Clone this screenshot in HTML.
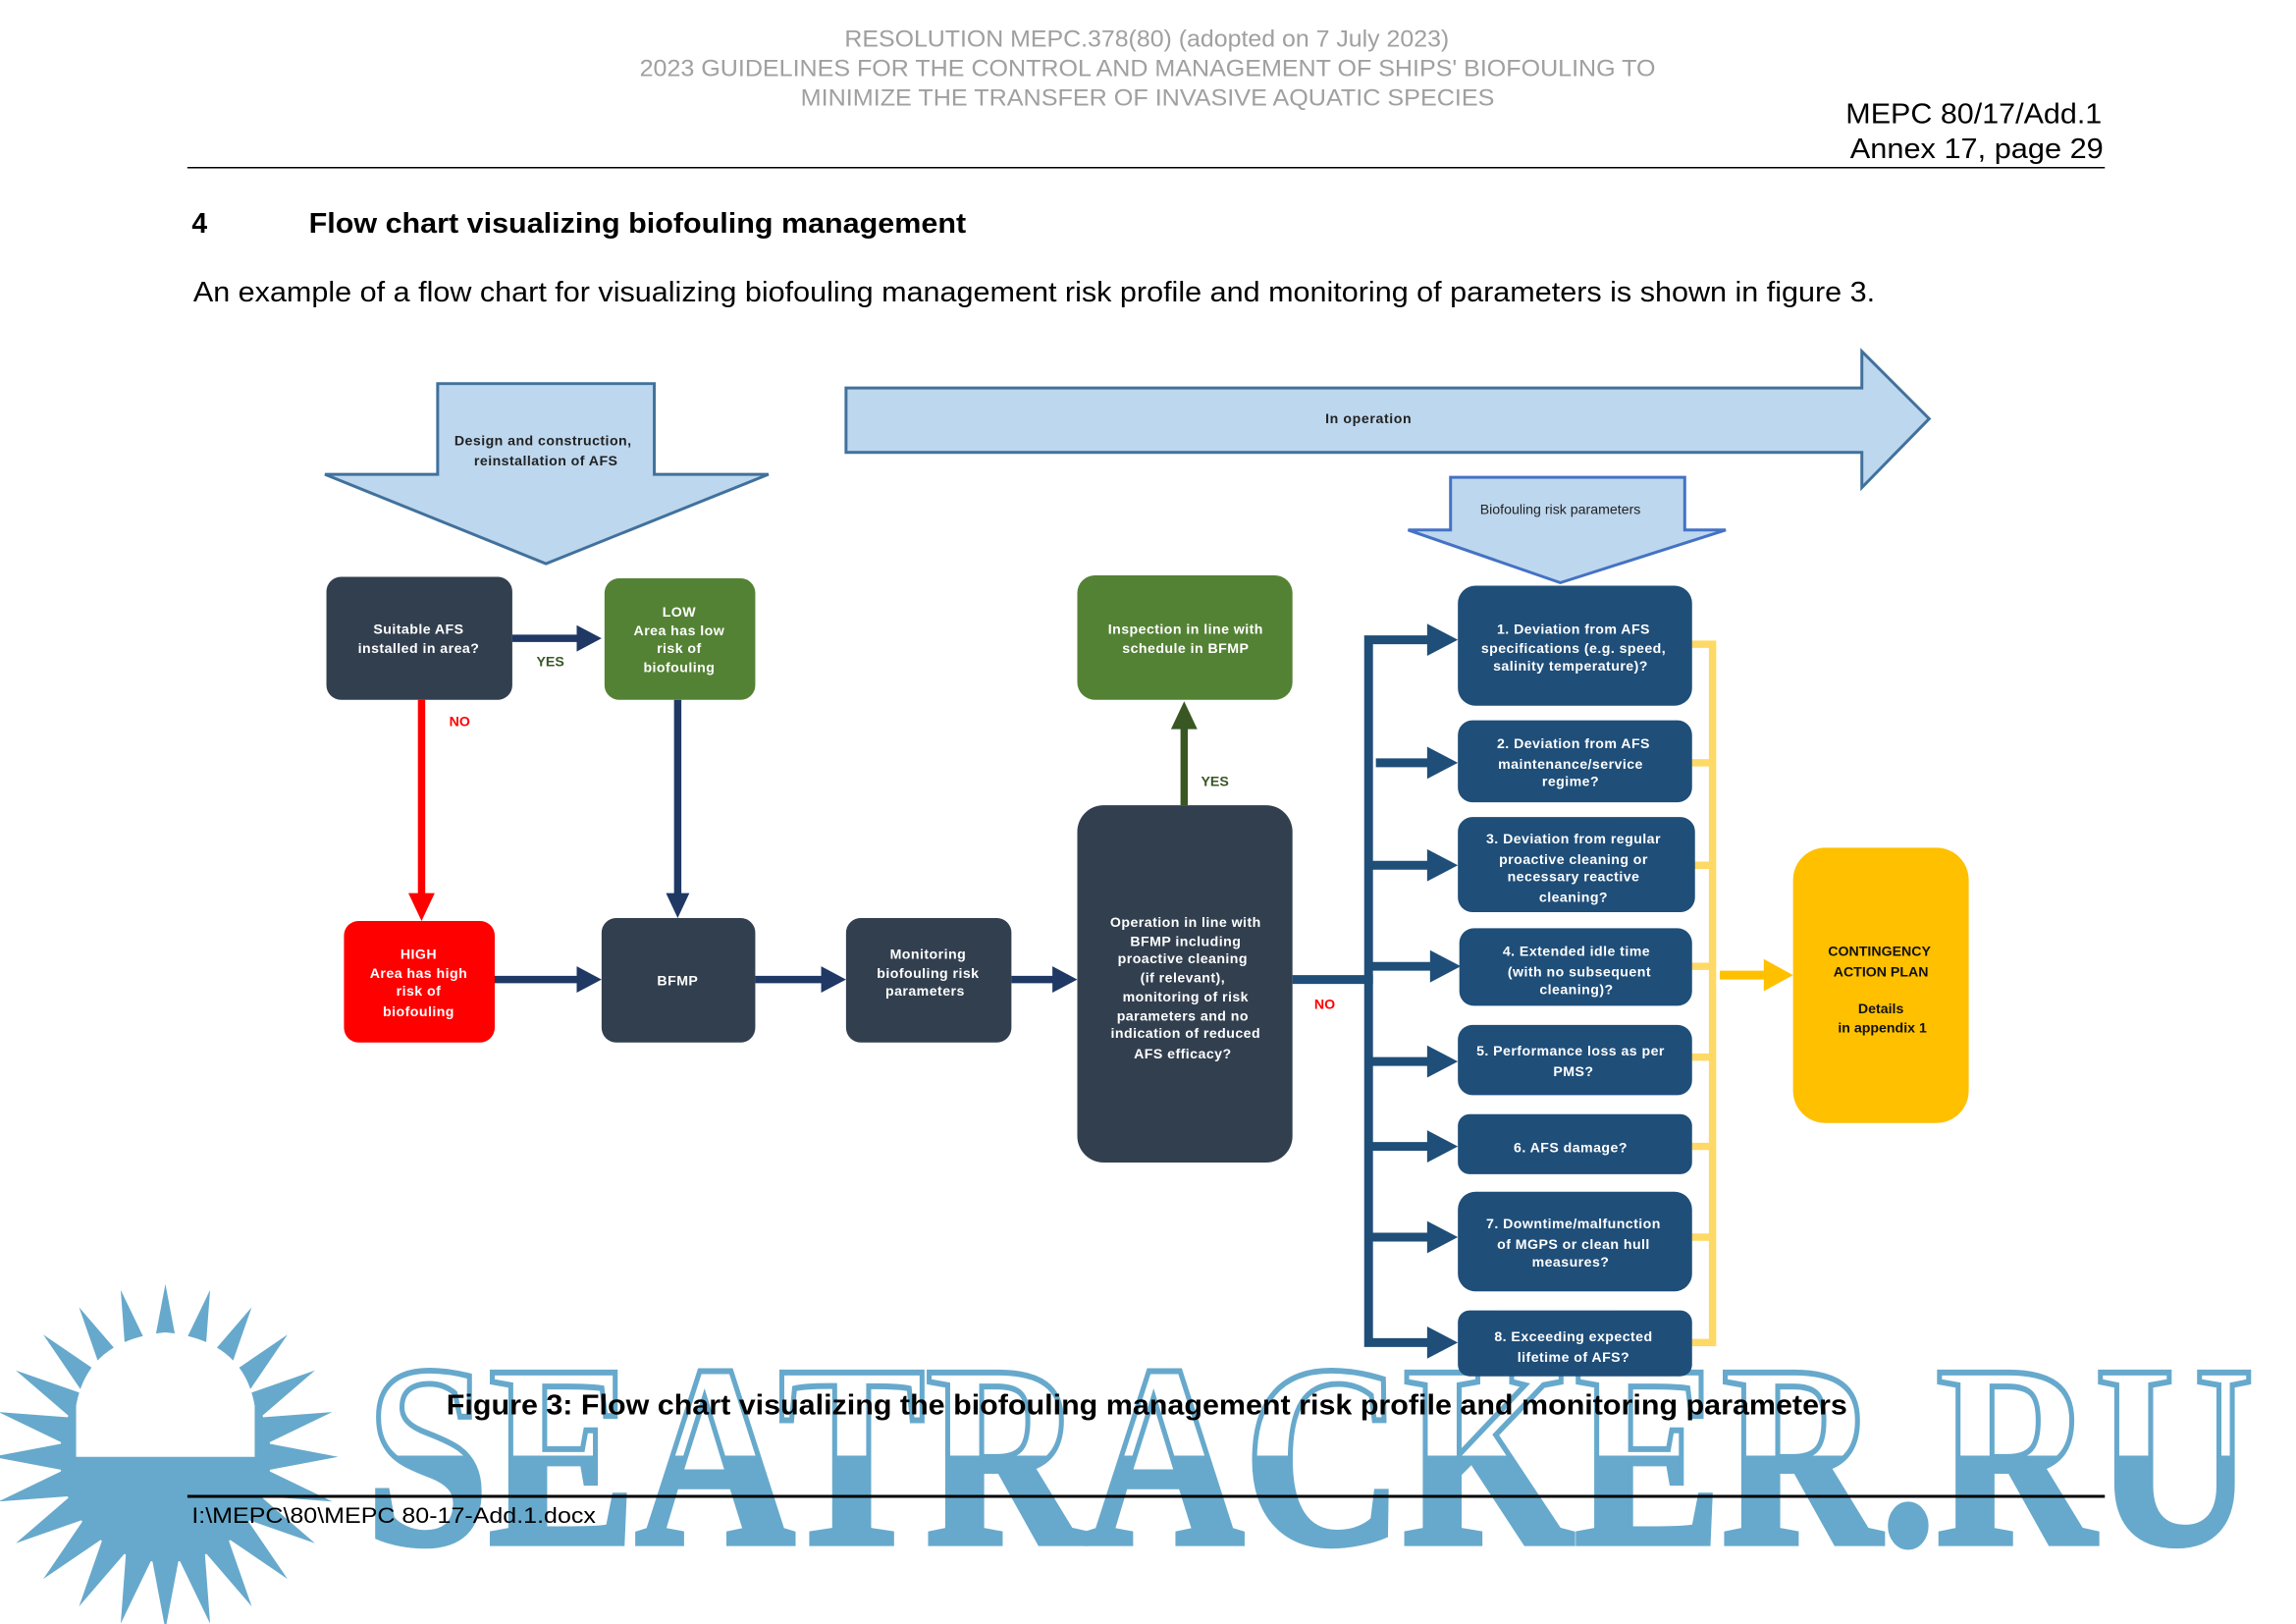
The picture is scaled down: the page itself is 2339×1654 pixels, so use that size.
<!DOCTYPE html>
<html><head><meta charset="utf-8"><style>
html,body{margin:0;padding:0;background:#fff;}
svg{display:block;}
text{font-family:"Liberation Sans",sans-serif;}
.w{fill:#fff;font-size:9.5px;font-weight:bold;text-anchor:middle;letter-spacing:0.3px}
</style></head><body>
<svg width="2339" height="1654" viewBox="0 0 1568.6 1109.2" preserveAspectRatio="none" xmlns="http://www.w3.org/2000/svg">
<defs>
<linearGradient id="wm" x1="0" y1="0" x2="0" y2="1">
<stop offset="0.5" stop-color="#fff"/><stop offset="0.5" stop-color="#67a9cc"/>
</linearGradient>
<polygon id="sp" points="-11,-60 11,-60 0,-118"/>
</defs>
<!-- header -->
<g fill="#a0a0a0" font-size="16">
<text x="577" y="32" textLength="413" lengthAdjust="spacingAndGlyphs">RESOLUTION MEPC.378(80) (adopted on 7 July 2023)</text>
<text x="437" y="52" textLength="694" lengthAdjust="spacingAndGlyphs">2023 GUIDELINES FOR THE CONTROL AND MANAGEMENT OF SHIPS' BIOFOULING TO</text>
<text x="547" y="72" textLength="474" lengthAdjust="spacingAndGlyphs">MINIMIZE THE TRANSFER OF INVASIVE AQUATIC SPECIES</text>
</g>
<g font-size="19" fill="#000">
<text x="1261" y="84" textLength="175" lengthAdjust="spacingAndGlyphs">MEPC 80/17/Add.1</text>
<text x="1264" y="108" textLength="173" lengthAdjust="spacingAndGlyphs">Annex 17, page 29</text>
</g>
<line x1="128" y1="114.5" x2="1438" y2="114.5" stroke="#000" stroke-width="1"/>
<text x="131" y="159" font-size="19" font-weight="bold">4</text>
<text x="211" y="159" font-size="19" font-weight="bold" textLength="449" lengthAdjust="spacingAndGlyphs">Flow chart visualizing biofouling management</text>
<text x="132" y="206" font-size="19" textLength="1149" lengthAdjust="spacingAndGlyphs">An example of a flow chart for visualizing biofouling management risk profile and monitoring of parameters is shown in figure 3.</text>

<!-- watermark -->
<g fill="#67a9cc">
<circle cx="113" cy="995" r="72"/>
<g transform="translate(113,995)">
<use href="#sp"/><use href="#sp" transform="rotate(15)"/><use href="#sp" transform="rotate(30)"/><use href="#sp" transform="rotate(45)"/><use href="#sp" transform="rotate(60)"/><use href="#sp" transform="rotate(75)"/><use href="#sp" transform="rotate(90)"/><use href="#sp" transform="rotate(105)"/><use href="#sp" transform="rotate(120)"/><use href="#sp" transform="rotate(135)"/><use href="#sp" transform="rotate(150)"/><use href="#sp" transform="rotate(165)"/><use href="#sp" transform="rotate(180)"/><use href="#sp" transform="rotate(195)"/><use href="#sp" transform="rotate(210)"/><use href="#sp" transform="rotate(225)"/><use href="#sp" transform="rotate(240)"/><use href="#sp" transform="rotate(255)"/><use href="#sp" transform="rotate(270)"/><use href="#sp" transform="rotate(285)"/><use href="#sp" transform="rotate(300)"/><use href="#sp" transform="rotate(315)"/><use href="#sp" transform="rotate(330)"/><use href="#sp" transform="rotate(345)"/>
</g>
</g>
<path d="M52,995 L52,960 Q60,915 113,910 Q166,915 174,960 L174,995 Z" fill="#fff"/>
<text x="250" y="1054" font-weight="bold" font-size="178" textLength="1290" lengthAdjust="spacingAndGlyphs" fill="url(#wm)" stroke="#67a9cc" stroke-width="4" style="font-family:'Liberation Serif',serif">SEATRACKER.RU</text>

<!-- big arrows -->
<polygon points="299,262 447,262 447,324 525,324 373,385 222,324 299,324" fill="#bdd7ee" stroke="#41719c" stroke-width="2"/>
<text x="371" y="304" font-size="9.5" text-anchor="middle" font-weight="bold" fill="#222" letter-spacing="0.3">Design and construction,</text>
<text x="373" y="318" font-size="9.5" text-anchor="middle" font-weight="bold" fill="#222" letter-spacing="0.3">reinstallation of AFS</text>
<polygon points="578,265 1272,265 1272,240 1318,286 1272,333 1272,309 578,309" fill="#bdd7ee" stroke="#41719c" stroke-width="2"/>
<text x="935" y="289" font-size="9.5" text-anchor="middle" font-weight="bold" fill="#222" letter-spacing="0.4">In operation</text>
<polygon points="991,326 1151,326 1151,362 1179,362 1066,398 962,362 991,362" fill="#bdd7ee" stroke="#4472c4" stroke-width="2"/>
<text x="1066" y="351" font-size="9.5" text-anchor="middle" fill="#222">Biofouling risk parameters</text>

<!-- connectors -->
<g stroke="#1f3864" stroke-width="5" fill="none">
<line x1="350" y1="436" x2="396" y2="436"/>
<line x1="463" y1="478" x2="463" y2="612"/>
<line x1="338" y1="669" x2="396" y2="669"/>
<line x1="516" y1="669" x2="563" y2="669"/>
<line x1="691" y1="669" x2="721" y2="669"/>
</g>
<g fill="#1f3864">
<polygon points="394,427 411,436 394,445"/>
<polygon points="455,610 463,627 471,610"/>
<polygon points="394,660 411,669 394,678"/>
<polygon points="561,660 578,669 561,678"/>
<polygon points="719,660 736,669 719,678"/>
</g>
<line x1="288" y1="478" x2="288" y2="612" stroke="#ff0000" stroke-width="5"/>
<polygon points="279,610 288,629 297,610" fill="#ff0000"/>
<line x1="809" y1="550" x2="809" y2="496" stroke="#385723" stroke-width="5"/>
<polygon points="800,498 809,479 818,498" fill="#385723"/>
<text x="376" y="455" font-size="9.5" font-weight="bold" fill="#385723" text-anchor="middle">YES</text>
<text x="830" y="537" font-size="9.5" font-weight="bold" fill="#385723" text-anchor="middle">YES</text>
<text x="314" y="496" font-size="9.5" font-weight="bold" fill="#ff0000" text-anchor="middle">NO</text>
<text x="905" y="689" font-size="9.5" font-weight="bold" fill="#ff0000" text-anchor="middle">NO</text>

<!-- branch -->
<g stroke="#1f4e79" stroke-width="6" fill="none">
<line x1="883" y1="669" x2="938" y2="669"/>
<polyline points="978,437 935,437 935,917 978,917"/>
<line x1="940" y1="521" x2="978" y2="521"/>
<line x1="935" y1="591" x2="978" y2="591"/>
<line x1="935" y1="660" x2="980" y2="660"/>
<line x1="935" y1="725" x2="978" y2="725"/>
<line x1="935" y1="783" x2="978" y2="783"/>
<line x1="935" y1="845" x2="978" y2="845"/>
</g>
<g fill="#1f4e79">
<polygon points="975,426 996,437 975,448"/>
<polygon points="975,510 996,521 975,532"/>
<polygon points="975,580 996,591 975,602"/>
<polygon points="977,649 998,660 977,671"/>
<polygon points="975,714 996,725 975,736"/>
<polygon points="975,772 996,783 975,794"/>
<polygon points="975,834 996,845 975,856"/>
<polygon points="975,906 996,917 975,928"/>
</g>
<!-- yellow bracket -->
<g stroke="#ffd966" stroke-width="5" fill="none">
<polyline points="1156,440 1170,440 1170,917 1156,917"/>
<line x1="1156" y1="521" x2="1172" y2="521"/>
<line x1="1156" y1="591" x2="1172" y2="591"/>
<line x1="1156" y1="660" x2="1172" y2="660"/>
<line x1="1156" y1="722" x2="1172" y2="722"/>
<line x1="1156" y1="783" x2="1172" y2="783"/>
<line x1="1156" y1="845" x2="1172" y2="845"/>
</g>
<line x1="1175" y1="666" x2="1208" y2="666" stroke="#ffc000" stroke-width="6"/>
<polygon points="1205,655 1225,666 1205,677" fill="#ffc000"/>

<!-- boxes -->
<rect x="223" y="394" width="127" height="84" rx="10" fill="#323f4f"/>
<text class="w" x="286" y="433">Suitable AFS</text><text class="w" x="286" y="446">installed in area?</text>
<rect x="413" y="395" width="103" height="83" rx="10" fill="#548235"/>
<text class="w" x="464" y="421">LOW</text><text class="w" x="464" y="434">Area has low</text><text class="w" x="464" y="446">risk of</text><text class="w" x="464" y="459">biofouling</text>
<rect x="235" y="629" width="103" height="83" rx="10" fill="#ff0000"/>
<text class="w" x="286" y="655">HIGH</text><text class="w" x="286" y="668">Area has high</text><text class="w" x="286" y="680">risk of</text><text class="w" x="286" y="694">biofouling</text>
<rect x="411" y="627" width="105" height="85" rx="10" fill="#323f4f"/>
<text class="w" x="463" y="673">BFMP</text>
<rect x="578" y="627" width="113" height="85" rx="10" fill="#323f4f"/>
<text class="w" x="634" y="655">Monitoring</text><text class="w" x="634" y="668">biofouling risk</text><text class="w" x="632" y="680">parameters</text>
<rect x="736" y="550" width="147" height="244" rx="18" fill="#323f4f"/>
<text class="w" x="810" y="633">Operation in line with</text><text class="w" x="810" y="646">BFMP including</text><text class="w" x="808" y="658">proactive cleaning</text><text class="w" x="808" y="671">(if relevant),</text><text class="w" x="810" y="684">monitoring of risk</text><text class="w" x="808" y="697">parameters  and no</text><text class="w" x="810" y="709">indication of reduced</text><text class="w" x="808" y="723">AFS efficacy?</text>
<rect x="736" y="393" width="147" height="85" rx="12" fill="#548235"/>
<text class="w" x="810" y="433">Inspection in line with</text><text class="w" x="810" y="446">schedule in BFMP</text>

<g fill="#1f4e79">
<rect x="996" y="400" width="160" height="82" rx="12"/>
<rect x="996" y="492" width="160" height="56" rx="10"/>
<rect x="996" y="558" width="162" height="65" rx="10"/>
<rect x="997" y="634" width="159" height="53" rx="10"/>
<rect x="996" y="700" width="160" height="48" rx="10"/>
<rect x="996" y="761" width="160" height="41" rx="8"/>
<rect x="996" y="814" width="160" height="68" rx="12"/>
<rect x="996" y="895" width="160" height="45" rx="8"/>
</g>
<text class="w" x="1075" y="433">1. Deviation from AFS</text><text class="w" x="1075" y="446">specifications (e.g. speed,</text><text class="w" x="1073" y="458">salinity temperature)?</text>
<text class="w" x="1075" y="511">2. Deviation from AFS</text><text class="w" x="1073" y="525">maintenance/service</text><text class="w" x="1073" y="537">regime?</text>
<text class="w" x="1075" y="576">3. Deviation from regular</text><text class="w" x="1075" y="590">proactive cleaning or</text><text class="w" x="1075" y="602">necessary   reactive</text><text class="w" x="1075" y="616">cleaning?</text>
<text class="w" x="1077" y="653">4. Extended idle time</text><text class="w" x="1079" y="667">(with no subsequent</text><text class="w" x="1077" y="679">cleaning)?</text>
<text class="w" x="1073" y="721">5. Performance loss as per</text><text class="w" x="1075" y="735">PMS?</text>
<text class="w" x="1073" y="787">6. AFS damage?</text>
<text class="w" x="1075" y="839">7. Downtime/malfunction</text><text class="w" x="1075" y="853">of MGPS or clean hull</text><text class="w" x="1073" y="865">measures?</text>
<text class="w" x="1075" y="916">8. Exceeding expected</text><text class="w" x="1075" y="930">lifetime of AFS?</text>
<rect x="1225" y="579" width="120" height="188" rx="22" fill="#ffc000"/>
<g font-size="9.5" font-weight="bold" fill="#111" text-anchor="middle">
<text x="1284" y="653">CONTINGENCY</text><text x="1285" y="667">ACTION PLAN</text><text x="1285" y="692">Details</text><text x="1286" y="705">in appendix 1</text>
</g>

<!-- caption/footer -->
<text x="305" y="966" font-size="19" font-weight="bold" fill="#000" textLength="957" lengthAdjust="spacingAndGlyphs">Figure 3: Flow chart visualizing the biofouling management risk profile and monitoring parameters</text>
<line x1="128" y1="1022" x2="1438" y2="1022" stroke="#000" stroke-width="2"/>
<text x="131" y="1040" font-size="15" fill="#000" textLength="276" lengthAdjust="spacingAndGlyphs">I:\MEPC\80\MEPC 80-17-Add.1.docx</text>
</svg>
</body></html>
